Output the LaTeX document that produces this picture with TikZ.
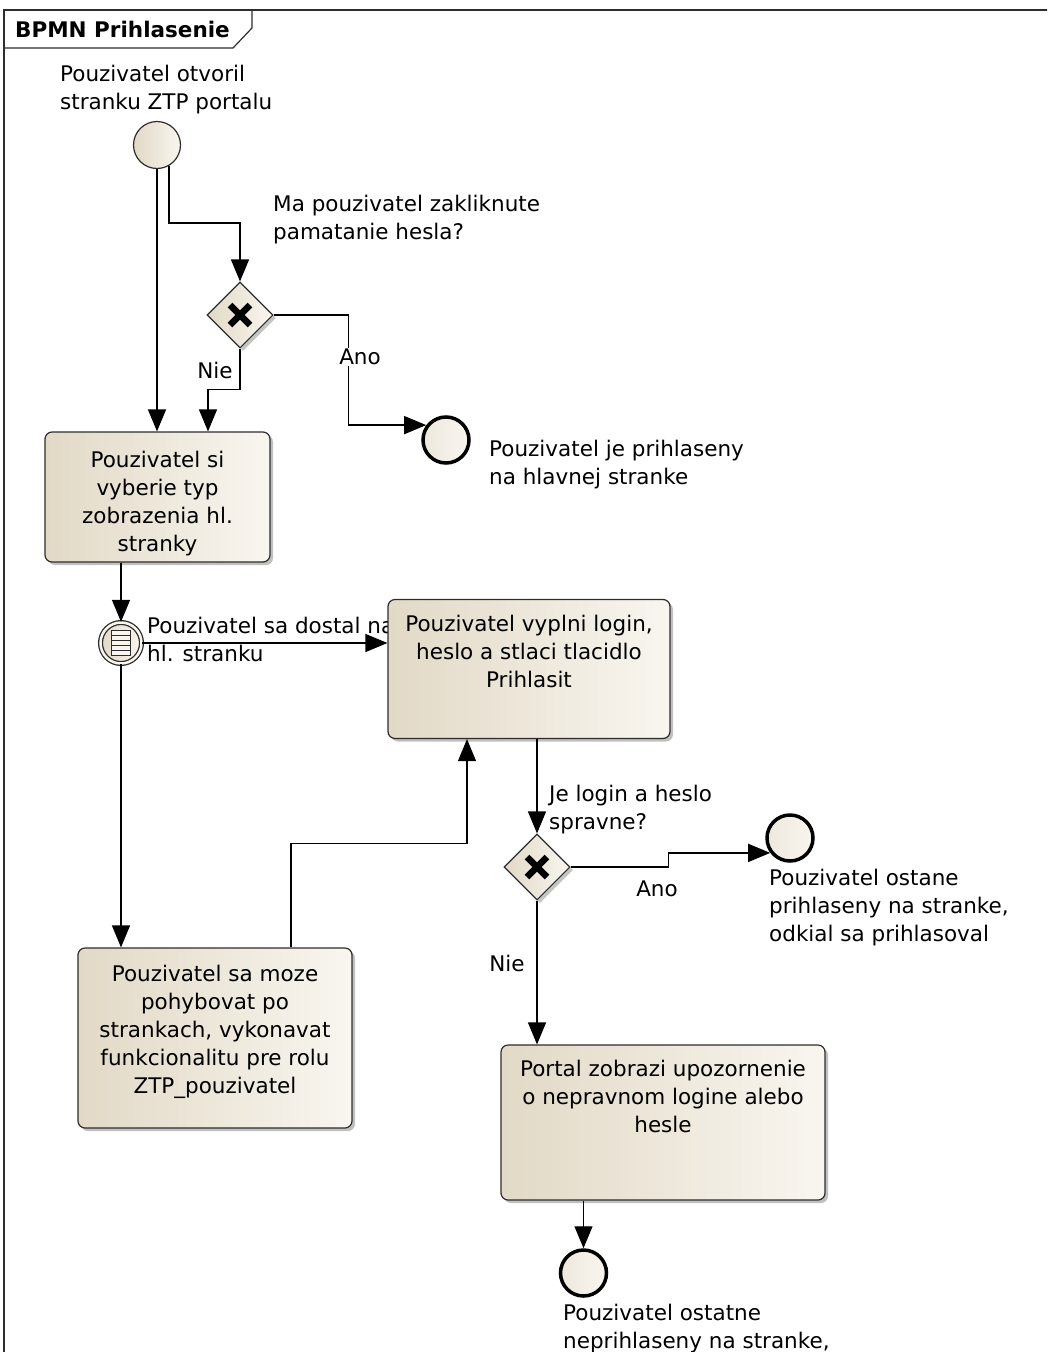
\documentclass[tikz,border=0pt]{standalone}
\usepackage{fontspec}
\setmainfont{DejaVu Sans}
\usetikzlibrary{shapes.geometric,arrows.meta,shadows,positioning}

\definecolor{bpmnlo}{RGB}{226,217,198}
\definecolor{bpmnhi}{RGB}{249,246,240}
\definecolor{bpmnline}{RGB}{45,45,45}

\tikzset{
  task/.style={rectangle, rounded corners=7pt, draw=bpmnline, line width=1.2pt,
    left color=bpmnlo, right color=bpmnhi, inner sep=0pt,
    drop shadow={shadow xshift=3pt, shadow yshift=-3pt, fill=black!45, opacity=.55}},
  tasktext/.style={anchor=north, align=center, inner sep=0pt},
  evtext/.style={anchor=north west, align=left, inner sep=0pt},
  startev/.style={circle, minimum size=47pt, inner sep=0pt, draw=bpmnline,
    line width=1.2pt, left color=bpmnlo, right color=bpmnhi},
  endev/.style={circle, minimum size=46pt, inner sep=0pt, draw=black,
    line width=3.5pt, left color=bpmnlo!60!white, right color=bpmnhi},
  midev/.style={circle, minimum size=41pt, inner sep=0pt, draw=bpmnline,
    line width=1.3pt, double=bpmnhi, double distance=2.5pt,
    left color=bpmnlo, right color=bpmnhi},
  xgate/.style={diamond, aspect=1, minimum size=66pt, inner sep=0pt,
    draw=bpmnline, line width=1.1pt, left color=bpmnlo, right color=bpmnhi,
    drop shadow={shadow xshift=3pt, shadow yshift=-3pt, fill=black!45, opacity=.5},
    path picture={
      \draw[line width=6.5pt, black]
        ([shift={(-10pt,-10pt)}]path picture bounding box.center) -- ([shift={(10pt,10pt)}]path picture bounding box.center)
        ([shift={(-10pt,10pt)}]path picture bounding box.center) -- ([shift={(10pt,-10pt)}]path picture bounding box.center);
    }},
  flow/.style={draw=black, line width=1.3pt, -{Triangle[length=22pt,width=18pt]}},
  flowlbl/.style={inner sep=1pt}
}

\begin{document}
\begin{tikzpicture}[x=1pt, y=-1pt, font=\fontsize{21.5}{28}\selectfont]
\useasboundingbox (0,0) rectangle (1047,1352);
\clip (0,0) rectangle (1047,1352);

% frame and title tab
\draw[bpmnline, line width=1.2pt] (4,1360) -- (4,10) -- (1050,10);
\draw[bpmnline, line width=1.2pt] (4,48) -- (233,48) -- (252,28) -- (252,10);
\node[anchor=west, inner sep=0pt, font=\fontsize{21.5}{28}\selectfont\bfseries] (title) at (15,29) {BPMN Prihlasenie};

% events and gateways
\node[startev] (s) at (157,145) {};
\node[evtext] (slbl) at (60,65) {Pouzivatel otvoril\\stranku ZTP portalu};

\node[xgate] (g1) at (240,315) {};
\node[evtext] (g1lbl) at (273,195) {Ma pouzivatel zakliknute\\pamatanie hesla?};

\node[endev] (e1) at (446,440) {};
\node[evtext] (e1lbl) at (489,440) {Pouzivatel je prihlaseny\\na hlavnej stranke};

% tasks
\node[task, minimum width=225pt, minimum height=130pt] (t1) at (157.5,497) {};
\node[tasktext, below=20pt of t1.north] (t1txt) {Pouzivatel si\\vyberie typ\\zobrazenia hl.\\stranky};

\node[midev] (im) at (121,643) {};
\draw[bpmnline, line width=1.2pt, fill=bpmnhi] ([shift={(-9.5pt,-12.5pt)}]im.center) rectangle ([shift={(9.5pt,12.5pt)}]im.center);
\foreach \k in {-7.5,-2.5,2.5,7.5}
  \draw[bpmnline, line width=1.1pt] ([shift={(-9.5pt,\k pt)}]im.center) -- ([shift={(9.5pt,\k pt)}]im.center);
\node[evtext] (imlbl) at (147,617) {Pouzivatel sa dostal na\\hl. stranku};

\node[task, minimum width=282pt, minimum height=139pt] (t2) at (529,669) {};
\node[tasktext, below=16pt of t2.north] (t2txt) {Pouzivatel vyplni login,\\heslo a stlaci tlacidlo\\Prihlasit};

\node[task, minimum width=274pt, minimum height=180pt] (t3) at (215,1038) {};
\node[tasktext, below=18pt of t3.north] (t3txt) {Pouzivatel sa moze\\pohybovat po\\strankach, vykonavat\\funkcionalitu pre rolu\\ZTP\_pouzivatel};

\node[xgate] (g2) at (537,867) {};
\node[evtext] (g2lbl) at (549,785) {Je login a heslo\\spravne?};

\node[endev] (e2) at (790,838) {};
\node[evtext] (e2lbl) at (769,869) {Pouzivatel ostane\\prihlaseny na stranke,\\odkial sa prihlasoval};

\node[task, minimum width=324pt, minimum height=155pt] (t4) at (663,1122.5) {};
\node[tasktext, below=16pt of t4.north] (t4txt) {Portal zobrazi upozornenie\\o nepravnom logine alebo\\hesle};

\node[endev] (e3) at (583.5,1273) {};
\node[evtext] (e3lbl) at (563,1304) {Pouzivatel ostatne\\neprihlaseny na stranke,};

% sequence flows
\draw[flow] (s.south) -- (s.south |- t1.north);
\draw[flow] (s.-60) -- ++(0,57) -| (g1.north);
\draw[flow] (g1.east) -- ++(75,0) |- (e1.143);
\draw[flow] (g1.south) -- ++(0,41) -| ([xshift=50.5pt]t1.north);
\draw[flow] (im.north |- t1.south) -- (im.north);
\draw[flow] (im.east) -- (im.east -| t2.west);
\draw[flow] (im.south) -- (im.south |- t3.north);
\draw[flow] ([xshift=76pt]t3.north) -- ++(0,-104) -| ([xshift=-62pt]t2.south);
\draw[flow] (g2.north |- t2.south) -- (g2.north);
\draw[flow] (g2.east) -- ++(98,0) |- (e2.217);
\draw[flow] (g2.south) -- (g2.south |- t4.north);
\draw[flow] (e3.north |- t4.south) -- (e3.north);

% flow labels
\node[flowlbl, fill=white] (ano1) at (360,357) {Ano};
\node[flowlbl] (nie1) at (215,370) {Nie};
\node[flowlbl] (ano2) at (657,889) {Ano};
\node[flowlbl] (nie2) at (507,963) {Nie};
\end{tikzpicture}
\end{document}
